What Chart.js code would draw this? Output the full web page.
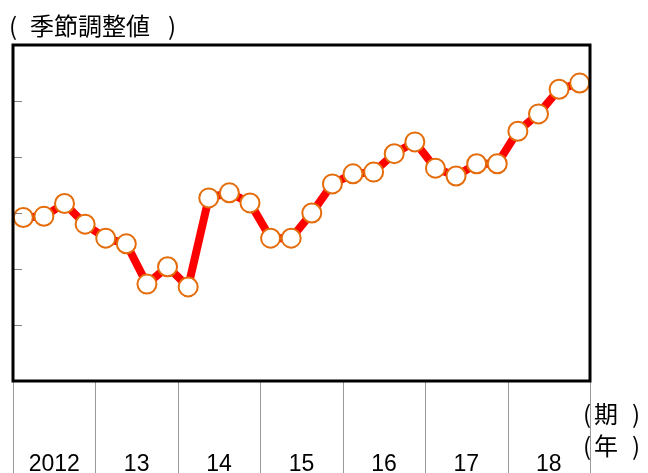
<!DOCTYPE html>
<html>
<head>
<meta charset="utf-8">
<script src="https://cdn.jsdelivr.net/npm/chart.js@4/dist/chart.umd.min.js"></script>
<style>
  html, body { margin: 0; padding: 0; background: #fff; }
  #wrap { position: relative; width: 648px; height: 473px; }
</style>
</head>
<body>
<div id="wrap"><canvas id="seasonalChart" width="648" height="473"></canvas></div>
<script>
// quarterly seasonally adjusted series, 2012 Q1 .. 2018 Q4
const years = ['2012', '13', '14', '15', '16', '17', '18'];
const quarters = years.flatMap(y => ['I', 'II', 'III', 'IV'].map(q => y + '-' + q));
const adjusted = [
  2.92, 2.94, 3.17, 2.80,
  2.55, 2.45, 1.73, 2.04,
  1.68, 3.27, 3.36, 3.18,
  2.55, 2.55, 3.00, 3.52,
  3.70, 3.73, 4.06, 4.27,
  3.80, 3.66, 3.88, 3.88,
  4.46, 4.77, 5.21, 5.32
];
const yTicks = [0, 1, 2, 3, 4, 5, 6];

const titleText = '季節調整値';
const periodText = '期';
const yearText = '年';

// draws "( text )" with the brackets set apart from the word
function bracketed(ctx, text, left, textLeft, right, y) {
  ctx.fillText('(', left, y);
  ctx.fillText(text, textLeft, y);
  ctx.fillText(')', right, y);
}

// frame, inner y ticks, year separators and labels
const framePlugin = {
  id: 'frame',
  afterDraw(chart) {
    const { ctx, chartArea: a, scales } = chart;
    const x = scales.x, y = scales.y;
    ctx.save();

    // small inward ticks on the left edge
    ctx.strokeStyle = '#808080';
    ctx.lineWidth = 1;
    yTicks.forEach(v => {
      const py = Math.round(y.getPixelForValue(v)) + 0.5;
      ctx.beginPath();
      ctx.moveTo(a.left, py);
      ctx.lineTo(a.left + 9, py);
      ctx.stroke();
    });

    // year separators below the plot
    const step = x.getPixelForValue(1) - x.getPixelForValue(0);
    ctx.strokeStyle = '#999';
    for (let i = 0; i <= years.length; i++) {
      const px = Math.round(x.getPixelForValue(i * 4) - step / 2) + 0.5;
      ctx.beginPath();
      ctx.moveTo(px, a.bottom);
      ctx.lineTo(px, chart.height);
      ctx.stroke();
    }

    // year labels centred under each group of four quarters
    ctx.fillStyle = '#000';
    ctx.font = '23px "Liberation Sans", Arial, sans-serif';
    ctx.textAlign = 'center';
    ctx.textBaseline = 'alphabetic';
    years.forEach((lab, i) => {
      const px = (x.getPixelForValue(i * 4) + x.getPixelForValue(i * 4 + 3)) / 2;
      ctx.fillText(lab, px, 471);
    });

    // plot frame
    ctx.strokeStyle = '#000';
    ctx.lineWidth = 3;
    ctx.strokeRect(a.left, a.top, a.right - a.left, a.bottom - a.top);

    // captions
    ctx.font = '24px "Noto Sans CJK JP", sans-serif';
    ctx.textAlign = 'left';
    ctx.textBaseline = 'middle';
    bracketed(ctx, titleText, 9, 30, 168, 26);
    bracketed(ctx, periodText, 583, 594, 632, 414);
    bracketed(ctx, yearText, 583, 594, 632, 446);

    ctx.restore();
  }
};

new Chart(document.getElementById('seasonalChart'), {
  type: 'line',
  data: {
    labels: quarters,
    datasets: [{
      data: adjusted,
      borderColor: '#FF0000',
      borderWidth: 8,
      pointRadius: 9.5,
      pointBackgroundColor: '#FFFFFF',
      pointBorderColor: '#E46C0A',
      pointBorderWidth: 2,
      tension: 0,
      fill: false,
      clip: 12
    }]
  },
  options: {
    responsive: false,
    animation: false,
    layout: { padding: { left: 13, right: 58, top: 45, bottom: 92 } },
    plugins: {
      legend: { display: false },
      tooltip: { enabled: false }
    },
    scales: {
      x: { display: false, offset: true },
      y: { display: false, min: 0, max: 6 }
    }
  },
  plugins: [framePlugin]
});
</script>
</body>
</html>
